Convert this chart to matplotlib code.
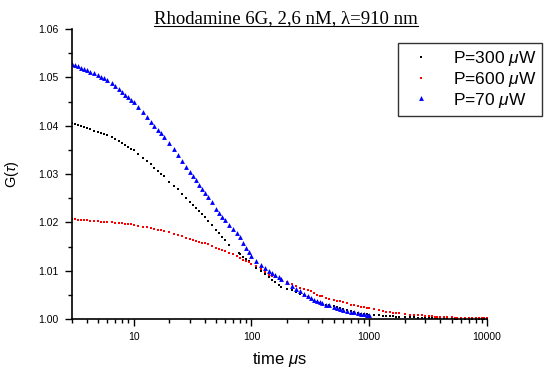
import numpy as np
import matplotlib
matplotlib.use('Agg')
import matplotlib.pyplot as plt
from matplotlib.lines import Line2D
from matplotlib.ticker import MultipleLocator, LogLocator, NullFormatter, FixedLocator, FixedFormatter

plt.rcParams['font.family'] = ['Liberation Sans', 'DejaVu Sans']
plt.rcParams['mathtext.fontset'] = 'custom'
plt.rcParams['mathtext.it'] = 'Liberation Sans:italic'
plt.rcParams['mathtext.rm'] = 'Liberation Sans'

# lag times (microseconds)
t_red = [3.0, 3.2, 3.4, 3.6, 3.8, 4.0, 4.3, 4.6, 5.0, 5.3, 5.6, 6.0, 6.5, 7.0, 7.5, 8.0,
         8.5, 9.0, 9.5, 10, 11, 12, 13, 14, 15, 16, 17, 18, 20, 22, 24, 26, 28, 30, 32,
         34, 36, 38, 40, 43, 46, 50, 53, 56, 60, 65, 70, 75, 80, 85, 90, 95, 100, 110,
         120, 130, 140, 150, 160, 170, 180, 200, 220, 240, 260, 280, 300, 320, 340, 360,
         380, 400, 430, 460, 500, 530, 560, 600, 650, 700, 750, 800, 850, 900, 950, 1000,
         1100, 1200, 1300, 1400, 1500, 1600, 1700, 1800, 2000, 2200, 2400, 2600, 2800,
         3000, 3200, 3400, 3600, 3800, 4000, 4300, 4600, 5000, 5300, 5600, 6000, 6500,
         7000, 7500, 8000, 8500, 9000, 9500, 10000]
g_red = [1.0207, 1.0206, 1.0205, 1.0205, 1.0204, 1.0204, 1.0203, 1.0203, 1.0202, 1.0201,
         1.0201, 1.0200, 1.0200, 1.0199, 1.0198, 1.0198, 1.0197, 1.0196, 1.0196, 1.0195,
         1.0193, 1.0191, 1.0190, 1.0188, 1.0187, 1.0185, 1.0184, 1.0182, 1.0179, 1.0176,
         1.0174, 1.0171, 1.0168, 1.0166, 1.0164, 1.0162, 1.0160, 1.0158, 1.0157, 1.0155,
         1.0151, 1.0147, 1.0145, 1.0142, 1.0140, 1.0137, 1.0134, 1.0130, 1.0127, 1.0123,
         1.0120, 1.0117, 1.0114, 1.0110, 1.0103, 1.0098, 1.0092, 1.0090, 1.0086, 1.0083,
         1.0081, 1.0077, 1.0073, 1.0068, 1.0065, 1.0063, 1.0060, 1.0057, 1.0053, 1.0050,
         1.0048, 1.0047, 1.0044, 1.0042, 1.0040, 1.0038, 1.0037, 1.0035, 1.0033, 1.0030,
         1.0029, 1.0027, 1.0025, 1.0024, 1.0023, 1.0022, 1.0021, 1.0018, 1.0017, 1.0015,
         1.0014, 1.0013, 1.0013, 1.0012, 1.0010, 1.0009, 1.0009, 1.0008, 1.0008, 1.0007,
         1.0006, 1.0006, 1.0005, 1.0005, 1.0004, 1.0004, 1.0004, 1.0004, 1.0003, 1.0003,
         1.0003, 1.0003, 1.0002, 1.0002, 1.0002, 1.0002, 1.0002, 1.0002, 1.0002]

# black series has a small gap between ~65 and ~78 us
t_black = [3.0, 3.2, 3.4, 3.6, 3.8, 4.0, 4.3, 4.6, 5.0, 5.3, 5.6, 6.0, 6.5, 7.0, 7.5, 8.0,
           8.5, 9.0, 9.5, 10, 11, 12, 13, 14, 15, 16, 17, 18, 20, 22, 24, 26, 28, 30, 32,
           34, 36, 38, 40, 43, 46, 50, 53, 56, 60, 65, 78, 80, 85, 90, 95, 100, 110,
           120, 130, 140, 150, 160, 170, 180, 200, 220, 240, 260, 280, 300, 320, 340, 360,
           380, 400, 430, 460, 500, 530, 560, 600, 650, 700, 750, 800, 850, 900, 950, 1000,
           1100, 1200, 1300, 1400, 1500, 1600, 1700, 1800, 2000, 2200, 2400, 2600, 2800,
           3000, 3200, 3400, 3600, 3800, 4000, 4300, 4600, 5000, 5300, 5600, 6000, 6500,
           7000, 7500, 8000, 8500, 9000, 9500, 10000]
g_black = [1.0405, 1.0403, 1.0401, 1.0399, 1.0397, 1.0395, 1.0393, 1.0390, 1.0387, 1.0385,
           1.0383, 1.0380, 1.0376, 1.0372, 1.0368, 1.0364, 1.0360, 1.0356, 1.0352, 1.0349,
           1.0341, 1.0334, 1.0327, 1.0320, 1.0313, 1.0306, 1.0301, 1.0296, 1.0284, 1.0275,
           1.0268, 1.0259, 1.0250, 1.0243, 1.0236, 1.0230, 1.0224, 1.0217, 1.0211, 1.0203,
           1.0195, 1.0184, 1.0177, 1.0170, 1.0163, 1.0154, 1.0136, 1.0134, 1.0129, 1.0124,
           1.0119, 1.0114, 1.0106, 1.0099, 1.0094, 1.0086, 1.0081, 1.0076, 1.0071, 1.0067,
           1.0063, 1.0059, 1.0055, 1.0052, 1.0049, 1.0045, 1.0041, 1.0038, 1.0036, 1.0034,
           1.0032, 1.0030, 1.0028, 1.0026, 1.0024, 1.0023, 1.0021, 1.0019, 1.0016, 1.0015,
           1.0013, 1.0011, 1.0010, 1.0010, 1.0009, 1.0008, 1.0008, 1.0007, 1.0007, 1.0006,
           1.0006, 1.0005, 1.0005, 1.0004, 1.0004, 1.0004, 1.0003, 1.0003, 1.0003, 1.0003,
           1.0002, 1.0002, 1.0002, 1.0002, 1.0002, 1.0002, 1.0002, 1.0001, 1.0001, 1.0001,
           1.0001, 1.0001, 1.0001, 1.0001, 1.0001, 1.0001, 1.0001, 1.0001]

# blue series stops around 1 ms
t_blue = [3.0, 3.2, 3.4, 3.6, 3.8, 4.0, 4.3, 4.6, 5.0, 5.3, 5.6, 6.0, 6.5, 7.0, 7.5, 8.0,
          8.5, 9.0, 9.5, 10, 11, 12, 13, 14, 15, 16, 17, 18, 20, 22, 24, 26, 28, 30, 32,
          34, 36, 38, 40, 43, 46, 50, 53, 56, 60, 65, 70, 75, 80, 85, 90, 95, 100, 110,
          120, 130, 140, 150, 160, 170, 180, 200, 220, 240, 260, 280, 300, 320, 340, 360,
          380, 400, 430, 460, 500, 530, 560, 600, 650, 700, 750, 800, 850, 900, 950, 1000]
g_blue = [1.0528, 1.0526, 1.0523, 1.0520, 1.0518, 1.0515, 1.0512, 1.0508, 1.0504, 1.0501,
          1.0498, 1.0494, 1.0488, 1.0482, 1.0475, 1.0469, 1.0464, 1.0459, 1.0454, 1.0450,
          1.0439, 1.0428, 1.0418, 1.0408, 1.0399, 1.0391, 1.0384, 1.0377, 1.0364, 1.0352,
          1.0340, 1.0327, 1.0315, 1.0305, 1.0296, 1.0287, 1.0278, 1.0269, 1.0261, 1.0252,
          1.0242, 1.0228, 1.0220, 1.0212, 1.0204, 1.0195, 1.0187, 1.0178, 1.0169, 1.0158,
          1.0147, 1.0139, 1.0131, 1.0121, 1.0112, 1.0106, 1.0100, 1.0096, 1.0092, 1.0087,
          1.0083, 1.0076, 1.0069, 1.0062, 1.0057, 1.0052, 1.0048, 1.0043, 1.0040, 1.0038,
          1.0035, 1.0033, 1.0030, 1.0028, 1.0025, 1.0023, 1.0021, 1.0019, 1.0017, 1.0015,
          1.0014, 1.0012, 1.0011, 1.0010, 1.0009, 1.0008]

labels = ['P=300 $\\mu$W', 'P=600 $\\mu$W', 'P=70 $\\mu$W']
x_ticks = [10, 100, 1000, 10000]
x_ticklabels = ['10', '100', '1000', '10000']

fig = plt.figure(figsize=(5.44, 3.69), dpi=100)
ax = fig.add_axes([72 / 544, 1 - 319 / 369, (487 - 72) / 544, (319 - 29) / 369])

ax.plot(t_black, g_black, ls='none', marker='s', ms=2, color='black', mew=0, label=labels[0])
ax.plot(t_red, g_red, ls='none', marker='s', ms=2, color='red', mew=0, label=labels[1])
ax.plot(t_blue, g_blue, ls='none', marker='^', ms=3.5, color='blue', mew=0, label=labels[2])

ax.set_xscale('log')
ax.set_xlim(3, 10000)
ax.set_ylim(1.0, 1.06)

# Origin-like axes: only left and bottom
ax.spines['top'].set_visible(False)
ax.spines['right'].set_visible(False)
ax.spines['left'].set_linewidth(1.2)
ax.spines['bottom'].set_linewidth(1.2)

ax.xaxis.set_major_locator(FixedLocator(x_ticks))
ax.xaxis.set_major_formatter(FixedFormatter(x_ticklabels))
ax.xaxis.set_minor_locator(LogLocator(base=10, subs=np.arange(2, 10)))
ax.xaxis.set_minor_formatter(NullFormatter())
ax.yaxis.set_major_locator(MultipleLocator(0.01))
ax.yaxis.set_minor_locator(MultipleLocator(0.005))
ax.yaxis.set_major_formatter(plt.FuncFormatter(lambda v, p: '%.2f' % v))

ax.tick_params(which='major', direction='out', length=5, width=1, labelsize=7.5)
ax.tick_params(which='minor', direction='out', length=3, width=1)
ax.tick_params(axis='x', pad=4)
ax.tick_params(axis='y', pad=5)

ax.set_xlabel('time $\\mu$s', fontsize=12, labelpad=6)
ax.set_ylabel('G($\\tau$)', fontsize=10.5, labelpad=12)

leg = ax.legend(loc='upper left', bbox_to_anchor=(398 / 544, 1 - 43 / 369),
                bbox_transform=fig.transFigure, borderaxespad=0, fontsize=12.5,
                frameon=True, fancybox=False, edgecolor='black', handlelength=2.0,
                handletextpad=0.8, borderpad=0.35, labelspacing=0.1, markerscale=1.0)
leg.get_frame().set_linewidth(1.0)

title = fig.text(286 / 544, 1 - 19 / 369, 'Rhodamine 6G, 2,6 nM, λ=910 nm',
                 ha='center', va='center', fontsize=13.5, family='Liberation Serif')

# underline the title
fig.canvas.draw()
bb = title.get_window_extent().transformed(fig.transFigure.inverted())
fig.add_artist(Line2D([bb.x0, bb.x1], [bb.y0 + 0.004, bb.y0 + 0.004],
                      transform=fig.transFigure, color='black', lw=0.8))

fig.savefig('out.png', dpi=100)
